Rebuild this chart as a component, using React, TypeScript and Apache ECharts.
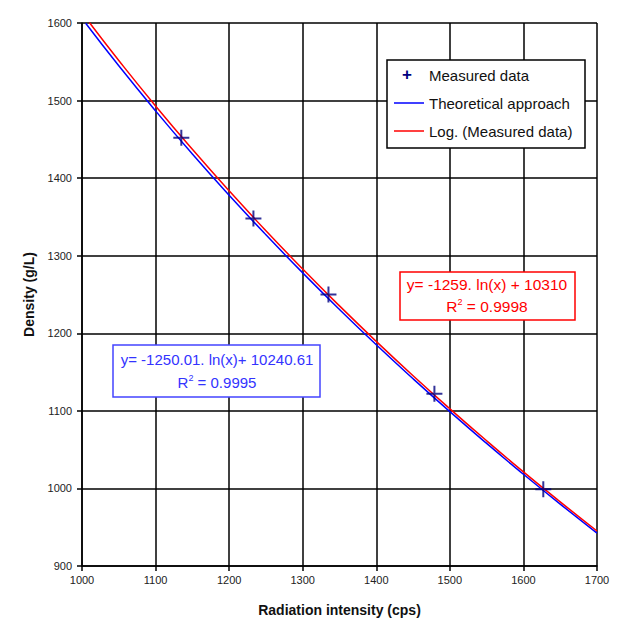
import React, { useEffect, useRef } from "react";
import * as echarts from "echarts";

const measuredX = [1135, 1233, 1335, 1479, 1627];
const measuredY = [1452, 1348, 1250, 1122, 999];

const logX = [1010, 1050, 1100, 1150, 1200, 1250, 1300, 1350, 1400, 1450, 1500, 1550, 1600, 1650, 1700];
const logY = [1600.6, 1551.7, 1493.1, 1437.2, 1383.6, 1332.2, 1282.8, 1235.3, 1189.5, 1145.3, 1102.7, 1061.4, 1021.4, 982.7, 945.1];

const theoX = [1005, 1050, 1100, 1150, 1200, 1250, 1300, 1350, 1400, 1450, 1500, 1550, 1600, 1650, 1700];
const theoY = [1599.6, 1544.8, 1486.7, 1431.1, 1377.9, 1326.9, 1277.9, 1230.7, 1185.2, 1141.4, 1099.0, 1058.0, 1018.3, 979.8, 942.5];

const seriesNames = ["Measured data", "Theoretical approach", "Log. (Measured data)"];

const FONT = "Liberation Sans, Arial, sans-serif";
const PLUS = "path://M-1,-8 L1,-8 L1,-1 L8,-1 L8,1 L1,1 L1,8 L-1,8 L-1,1 L-8,1 L-8,-1 L-1,-1 Z";

export default function App() {
  const ref = useRef<HTMLDivElement>(null);
  useEffect(() => {
    if (!ref.current) return;
    const chart = echarts.init(ref.current, undefined, { renderer: "svg" });
    const zip = (xs: number[], ys: number[]) => xs.map((x, i) => [x, ys[i]]);
    chart.setOption({
      animation: false,
      backgroundColor: "#fff",
      textStyle: { fontFamily: FONT },
      grid: { left: 82, top: 23, right: 27, bottom: 64 },
      xAxis: {
        type: "value",
        min: 1000,
        max: 1700,
        interval: 100,
        name: "Radiation intensity (cps)",
        nameLocation: "middle",
        nameGap: 37,
        nameTextStyle: { fontFamily: FONT, fontSize: 14, fontWeight: "bold", color: "#111" },
        axisLine: { show: true, onZero: false, lineStyle: { color: "#000", width: 1.5 } },
        axisTick: { show: true, length: 5, lineStyle: { color: "#000", width: 1.5 } },
        axisLabel: { fontFamily: FONT, fontSize: 11, color: "#222", margin: 8, formatter: (v: number) => String(v) },
        splitLine: { show: true, lineStyle: { color: "#000", width: 1.5 } },
      },
      yAxis: {
        type: "value",
        min: 900,
        max: 1600,
        interval: 100,
        name: "Density (g/L)",
        nameLocation: "middle",
        nameGap: 46,
        nameTextStyle: { fontFamily: FONT, fontSize: 14, fontWeight: "bold", color: "#111" },
        axisLine: { show: true, onZero: false, lineStyle: { color: "#000", width: 1.5 } },
        axisTick: { show: true, length: 5, lineStyle: { color: "#000", width: 1.5 } },
        axisLabel: { fontFamily: FONT, fontSize: 11, color: "#222", margin: 10, formatter: (v: number) => String(v) },
        splitLine: { show: true, lineStyle: { color: "#000", width: 1.5 } },
      },
      series: [
        {
          name: seriesNames[1],
          type: "line",
          data: zip(theoX, theoY),
          smooth: true,
          showSymbol: false,
          lineStyle: { color: "#0000ff", width: 1.5 },
          z: 2,
        },
        {
          name: seriesNames[2],
          type: "line",
          data: zip(logX, logY),
          smooth: true,
          showSymbol: false,
          lineStyle: { color: "#ff0000", width: 1.5 },
          z: 3,
        },
        {
          name: seriesNames[0],
          type: "scatter",
          data: zip(measuredX, measuredY),
          symbol: PLUS,
          symbolSize: 16,
          itemStyle: { color: "#000080" },
          z: 4,
        },
      ],
      graphic: [
        {
          type: "group",
          children: [
            { type: "rect", shape: { x: 387, y: 60, width: 198, height: 88 }, style: { fill: "#fff", stroke: "#000", lineWidth: 1.5 }, z: 10 },
            { type: "text", x: 407, y: 74, style: { text: "+", fill: "#000080", font: `bold 17px ${FONT}`, align: "center", verticalAlign: "middle" }, z: 11 },
            { type: "text", x: 429, y: 75, style: { text: seriesNames[0], fill: "#111", font: `15px ${FONT}`, verticalAlign: "middle" }, z: 11 },
            { type: "line", shape: { x1: 394, y1: 103, x2: 424, y2: 103 }, style: { stroke: "#0000ff", lineWidth: 1.5 }, z: 11 },
            { type: "text", x: 429, y: 103, style: { text: seriesNames[1], fill: "#111", font: `15px ${FONT}`, verticalAlign: "middle" }, z: 11 },
            { type: "line", shape: { x1: 394, y1: 131, x2: 424, y2: 131 }, style: { stroke: "#ff0000", lineWidth: 1.5 }, z: 11 },
            { type: "text", x: 429, y: 131, style: { text: seriesNames[2], fill: "#111", font: `15px ${FONT}`, verticalAlign: "middle" }, z: 11 },
          ],
        },
        {
          type: "group",
          children: [
            { type: "rect", shape: { x: 400, y: 272, width: 175, height: 48 }, style: { fill: "#fff", stroke: "#ff0000", lineWidth: 1.5 }, z: 10 },
            { type: "text", x: 487, y: 284, style: { text: "y= -1259. ln(x) + 10310", fill: "#ff0000", font: `15.5px ${FONT}`, align: "center", verticalAlign: "middle" }, z: 11 },
            {
              type: "text", x: 487, y: 306,
              style: {
                text: "{a|R}{s|2}{a| = 0.9998}",
                align: "center", verticalAlign: "middle",
                rich: {
                  a: { fontSize: 15.5, fontFamily: FONT, fill: "#ff0000", color: "#ff0000" },
                  s: { fontSize: 9, fontFamily: FONT, fill: "#ff0000", color: "#ff0000", verticalAlign: "top", padding: [0, 0, 8, 0] },
                },
              },
              z: 11,
            },
          ],
        },
        {
          type: "group",
          children: [
            { type: "rect", shape: { x: 113, y: 345, width: 207, height: 52 }, style: { fill: "#fff", stroke: "#4444ff", lineWidth: 1.5 }, z: 10 },
            { type: "text", x: 217, y: 359, style: { text: "y= -1250.01. ln(x)+ 10240.61", fill: "#3333ff", font: `15px ${FONT}`, align: "center", verticalAlign: "middle" }, z: 11 },
            {
              type: "text", x: 217, y: 382,
              style: {
                text: "{a|R}{s|2}{a| = 0.9995}",
                align: "center", verticalAlign: "middle",
                rich: {
                  a: { fontSize: 15, fontFamily: FONT, fill: "#3333ff", color: "#3333ff" },
                  s: { fontSize: 9, fontFamily: FONT, fill: "#3333ff", color: "#3333ff", verticalAlign: "top", padding: [0, 0, 8, 0] },
                },
              },
              z: 11,
            },
          ],
        },
      ],
    });
    return () => chart.dispose();
  }, []);
  return (
    <div
      ref={ref}
      style={{ position: "fixed", left: 0, top: 0, width: 624, height: 630, background: "#fff" }}
    />
  );
}
